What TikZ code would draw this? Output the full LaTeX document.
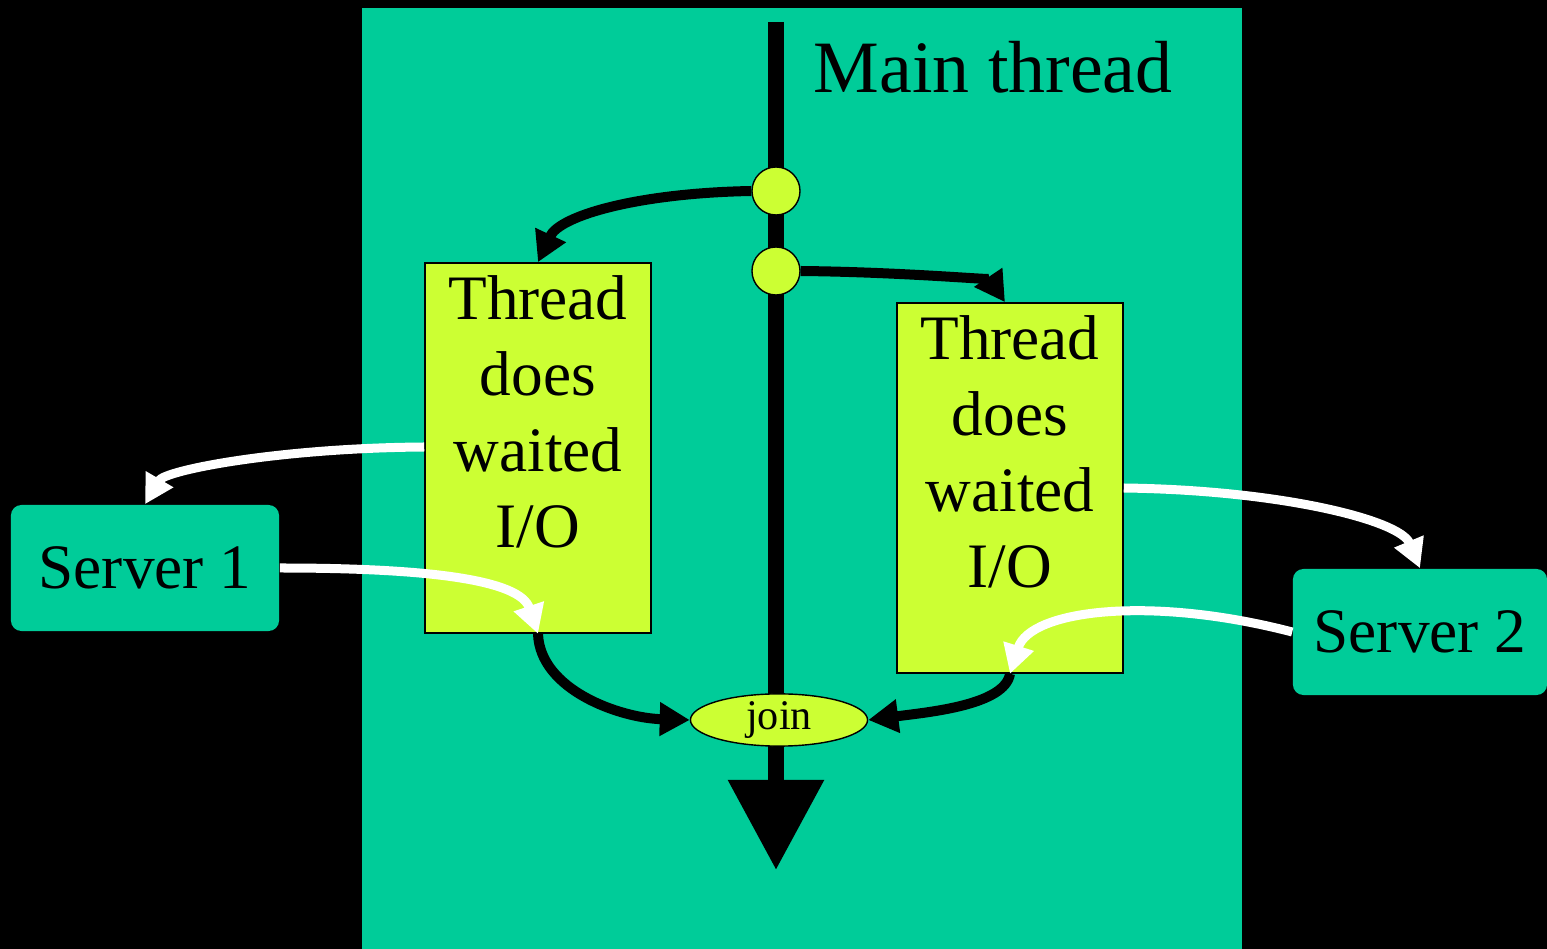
\documentclass[tikz,border=0pt]{standalone}
\usepackage{fontspec}
\setmainfont{Liberation Serif}
\usetikzlibrary{arrows.meta,positioning,shapes.geometric}
\definecolor{bgteal}{RGB}{0,204,153}
\definecolor{lime}{RGB}{204,255,51}
\tikzset{
  tbox/.style={rectangle, draw, thin, fill=lime, minimum width=2.26cm, minimum height=3.70cm},
  ttxt/.style={anchor=north, align=center, inner sep=0pt, font=\fontsize{18}{21.6}\selectfont},
  srv/.style={rectangle, fill=bgteal, rounded corners=3pt, minimum height=1.26cm, font=\fontsize{18}{21.6}\selectfont},
  fork/.style={circle, draw, thin, fill=lime, minimum size=0.48cm, inner sep=0pt},
  joinnode/.style={ellipse, draw, thin, fill=lime, minimum width=1.77cm, minimum height=0.47cm, inner sep=0pt, font=\fontsize{12}{14}\selectfont},
  flow/.style={line width=0.1cm, -{Triangle[length=0.3cm, width=0.32cm]}},
  ioflow/.style={white, line width=0.09cm, -{Triangle[length=0.29cm, width=0.3cm]}},
}
\begin{document}
\begin{tikzpicture}[x=0.01cm, y=-0.01cm]
  % background and thread area
  \fill[black] (0,0) rectangle (1547,949);
  \useasboundingbox (0,0) rectangle (1547,949);
  \fill[bgteal] (362,8) rectangle (1242,949);

  % main thread
  \coordinate (mtop) at (776,22);
  \coordinate (mend) at (776,870);
  \draw[line width=0.16cm, -{Triangle[length=0.9cm, width=0.92cm]}] (mtop) -- (mend);
  \node[anchor=base west, inner sep=0pt, font=\fontsize{21}{25}\selectfont] (mlabel) at (813,93) {Main thread};

  % forks and join
  \node[fork] (c1) at (776,191) {};
  \node[fork] (c2) at (776,271) {};
  \node[joinnode] (join) at (779,720) {\raisebox{-1.8pt}{join}};

  % worker threads
  \node[tbox] (t1) at (538,448) {};
  \node[ttxt] (t1txt) at (538,275) {Thread\\does\\waited\\I/O};
  \node[tbox] (t2) at (1010,488) {};
  \node[ttxt] (t2txt) at (1010,315) {Thread\\does\\waited\\I/O};

  % servers
  \node[srv, minimum width=2.68cm] (s1) at (145,568) {Server 1};
  \node[srv, minimum width=2.54cm] (s2) at (1420,632) {Server 2};

  % thread creation and join
  \draw[flow] (c1.west) .. controls (640,193) and (560,215) .. (t1.north);
  \draw[flow] (c2.east) .. controls (900,272) and (990,280) .. ([xshift=-0.05cm]t2.north);
  \draw[flow] (t1.south) .. controls (540,690) and (620,718) .. (join.west);
  \draw[flow] (t2.south) .. controls (1005,705) and (930,712) .. (join.east);

  % I/O requests and replies
  \draw[ioflow] (t1.west |- 0,447) .. controls (280,448) and (165,470) .. (s1.north);
  \draw[ioflow] (s1.east) .. controls (430,568) and (520,580) .. (t1.south);
  \draw[ioflow] (t2.east |- 0,488) .. controls (1280,490) and (1400,520) .. (s2.north);
  \draw[ioflow] (s2.west) .. controls (1150,595) and (1030,610) .. (t2.south);
\end{tikzpicture}
\end{document}
